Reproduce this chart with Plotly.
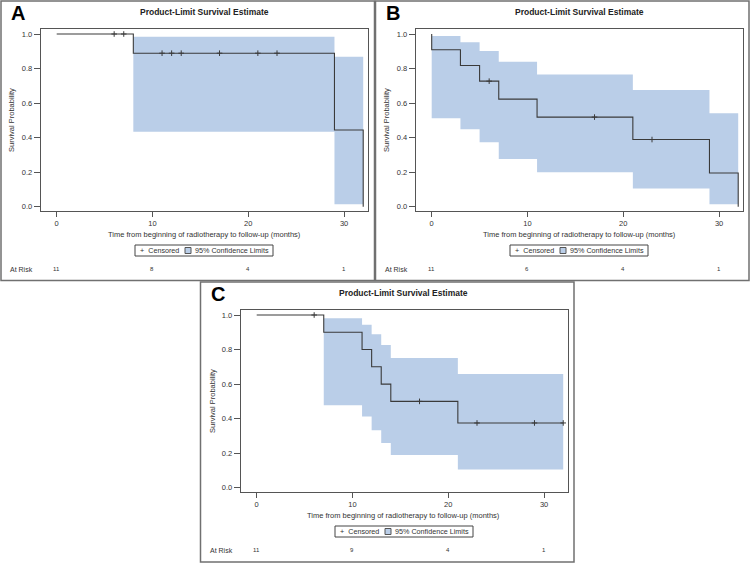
import plotly.graph_objects as go

W, H = 750, 563

# ---------------- data ----------------
risk_times = [0, 10, 20, 30]
x_ticks = [0, 10, 20, 30]
y_ticks = [0.0, 0.2, 0.4, 0.6, 0.8, 1.0]

# Panel A
A_step_time = [0, 8, 29, 32]
A_step_surv = [1.0, 0.889, 0.444, 0.0]
A_cens_time = [6, 7, 11, 12, 13, 17, 21, 23]
A_cens_surv = [1.0, 1.0, 0.889, 0.889, 0.889, 0.889, 0.889, 0.889]
A_ci_time = [8, 29]
A_ci_lower = [0.434, 0.015]
A_ci_upper = [0.984, 0.869]
A_ci_end = 32
A_risk = [11, 8, 4, 1]

# Panel B
B_step_time = [0, 0, 3, 5, 7, 11, 21, 29, 32]
B_step_surv = [1.0, 0.909, 0.818, 0.727, 0.623, 0.519, 0.389, 0.195, 0.0]
B_cens_time = [6, 17, 23]
B_cens_surv = [0.727, 0.519, 0.389]
B_ci_time = [0, 3, 5, 7, 11, 21, 29]
B_ci_lower = [0.512, 0.448, 0.373, 0.276, 0.199, 0.106, 0.015]
B_ci_upper = [0.988, 0.952, 0.902, 0.840, 0.766, 0.676, 0.541]
B_ci_end = 32
B_risk = [11, 6, 4, 1]

# Panel C
C_step_time = [0, 7, 11, 12, 13, 14, 21, 32]
C_step_surv = [1.0, 0.9, 0.8, 0.7, 0.6, 0.5, 0.375, 0.375]
C_cens_time = [6, 17, 23, 29, 32]
C_cens_surv = [1.0, 0.5, 0.375, 0.375, 0.375]
C_ci_time = [7, 11, 12, 13, 14, 21]
C_ci_lower = [0.477, 0.412, 0.333, 0.259, 0.190, 0.105]
C_ci_upper = [0.981, 0.943, 0.889, 0.826, 0.751, 0.659]
C_ci_end = 32
C_risk = [11, 9, 4, 1]

panels = [
    dict(letter="A", ox=0, oy=0, st=A_step_time, ss=A_step_surv, ct=A_cens_time, cs=A_cens_surv,
         cit=A_ci_time, cil=A_ci_lower, ciu=A_ci_upper, cie=A_ci_end, risk=A_risk),
    dict(letter="B", ox=375, oy=0, st=B_step_time, ss=B_step_surv, ct=B_cens_time, cs=B_cens_surv,
         cit=B_ci_time, cil=B_ci_lower, ciu=B_ci_upper, cie=B_ci_end, risk=B_risk),
    dict(letter="C", ox=200, oy=281, st=C_step_time, ss=C_step_surv, ct=C_cens_time, cs=C_cens_surv,
         cit=C_ci_time, cil=C_ci_lower, ciu=C_ci_upper, cie=C_ci_end, risk=C_risk),
]

# ---------------- style ----------------
FONT = "Liberation Sans, Arial, sans-serif"
TXT = "#333333"
BAND = "rgb(186,206,232)"
LINE = "#3a3a3a"
X_RANGE = [-1.67, 32.5]
Y_RANGE = [-0.023, 1.029]


def fx(px):
    return px / W


def fy(py):
    return 1 - py / H


fig = go.Figure()
annotations = []
shapes = []
layout_axes = {}

for i, p in enumerate(panels):
    n = "" if i == 0 else str(i + 1)
    xa, ya = "x" + n, "y" + n
    ox, oy = p["ox"], p["oy"]

    # confidence band (step)
    bt = list(p["cit"]) + [p["cie"]]
    bl = list(p["cil"]) + [p["cil"][-1]]
    bu = list(p["ciu"]) + [p["ciu"][-1]]
    fig.add_trace(go.Scatter(x=bt, y=bl, mode="lines", line=dict(width=0, shape="hv"),
                             xaxis=xa, yaxis=ya, showlegend=False, hoverinfo="skip"))
    fig.add_trace(go.Scatter(x=bt, y=bu, mode="lines", line=dict(width=0, shape="hv"),
                             fill="tonexty", fillcolor=BAND,
                             xaxis=xa, yaxis=ya, showlegend=False, hoverinfo="skip"))
    # KM step
    fig.add_trace(go.Scatter(x=p["st"], y=p["ss"], mode="lines",
                             line=dict(color=LINE, width=1.1, shape="hv"),
                             xaxis=xa, yaxis=ya, showlegend=False))
    # censored marks
    fig.add_trace(go.Scatter(x=p["ct"], y=p["cs"], mode="markers",
                             marker=dict(symbol="cross-thin", size=4, line=dict(width=1, color=LINE)),
                             xaxis=xa, yaxis=ya, showlegend=False))

    # axes
    x0p, x1p = ox + 40.7, ox + 368
    y0p, y1p = oy + 29, oy + 210.7
    common = dict(showgrid=False, zeroline=False, showline=True, linecolor="#555555", linewidth=1,
                  mirror=True, ticks="outside", tickcolor="#555555", tickwidth=1,
                  tickfont=dict(family=FONT, size=7.5, color=TXT))
    layout_axes["xaxis" + n] = dict(common, domain=[fx(x0p), fx(x1p)], range=X_RANGE,
                                    tickvals=x_ticks, ticklen=5, anchor=ya)
    layout_axes["yaxis" + n] = dict(common, domain=[fy(y1p), fy(y0p)], range=Y_RANGE,
                                    tickvals=y_ticks, tickformat=".1f", ticklen=6, anchor=xa)

    cx = ox + 204
    # panel letter
    annotations.append(dict(text="<b>%s</b>" % p["letter"], x=fx(ox + 9), y=fy(oy - 0.5),
                            xref="paper", yref="paper", xanchor="left", yanchor="top",
                            showarrow=False, font=dict(family=FONT, size=20, color="#000000")))
    # title
    annotations.append(dict(text="<b>Product-Limit Survival Estimate</b>", x=fx(cx), y=fy(oy + 12),
                            xref="paper", yref="paper", xanchor="center", yanchor="middle",
                            showarrow=False, font=dict(family=FONT, size=8.5, color="#222222")))
    # y title
    annotations.append(dict(text="Survival Probability", x=fx(ox + 12), y=fy(oy + 120),
                            xref="paper", yref="paper", xanchor="center", yanchor="middle",
                            textangle=-90, showarrow=False,
                            font=dict(family=FONT, size=7.5, color=TXT)))
    # x title
    annotations.append(dict(text="Time from beginning of radiotherapy to follow-up (months)",
                            x=fx(cx), y=fy(oy + 234), xref="paper", yref="paper",
                            xanchor="center", yanchor="middle", showarrow=False,
                            font=dict(family=FONT, size=7.5, color=TXT)))
    # legend box
    lx0, lx1, ly0, ly1 = ox + 135, ox + 273, oy + 245, oy + 256
    shapes.append(dict(type="rect", xref="paper", yref="paper", x0=fx(lx0), x1=fx(lx1),
                       y0=fy(ly1), y1=fy(ly0), line=dict(color="#444444", width=1),
                       fillcolor="rgba(0,0,0,0)"))
    annotations.append(dict(text="+  Censored", x=fx(lx0 + 3), y=fy(oy + 250.5),
                            xref="paper", yref="paper", xanchor="left", yanchor="middle",
                            showarrow=False, font=dict(family=FONT, size=7.2, color=TXT)))
    shapes.append(dict(type="rect", xref="paper", yref="paper", x0=fx(lx0 + 50), x1=fx(lx0 + 56),
                       y0=fy(oy + 253.5), y1=fy(oy + 247.5), line=dict(color="#555555", width=1),
                       fillcolor=BAND))
    annotations.append(dict(text="95% Confidence Limits", x=fx(lx0 + 58), y=fy(oy + 250.5),
                            xref="paper", yref="paper", xanchor="left", yanchor="middle",
                            showarrow=False, font=dict(family=FONT, size=7.2, color=TXT)))
    # at risk row
    annotations.append(dict(text="At Risk", x=fx(ox + 8), y=fy(oy + 269),
                            xref="paper", yref="paper", xanchor="left", yanchor="middle",
                            showarrow=False, font=dict(family=FONT, size=7, color=TXT)))
    for t, r in zip(risk_times, p["risk"]):
        annotations.append(dict(text=str(r), x=t, y=fy(oy + 269), xref=xa, yref="paper",
                                xanchor="center", yanchor="middle", showarrow=False,
                                font=dict(family=FONT, size=6, color=TXT)))

# panel borders
for (x0, y0, x1, y1) in [(1, 1, 374.5, 280.5), (375.5, 1, 749, 280.5), (200.5, 282, 574, 562)]:
    shapes.append(dict(type="rect", xref="paper", yref="paper", x0=fx(x0), x1=fx(x1),
                       y0=fy(y1), y1=fy(y0), line=dict(color="#707070", width=1.5),
                       fillcolor="rgba(0,0,0,0)"))

fig.update_layout(width=W, height=H, margin=dict(l=0, r=0, t=0, b=0),
                  paper_bgcolor="white", plot_bgcolor="white", showlegend=False,
                  annotations=annotations, shapes=shapes, **layout_axes)

fig.write_html("out.html", config={"displayModeBar": False},
               post_script="document.body.style.margin='0px';document.body.style.padding='0px';"
                           "document.body.style.overflow='hidden';")
